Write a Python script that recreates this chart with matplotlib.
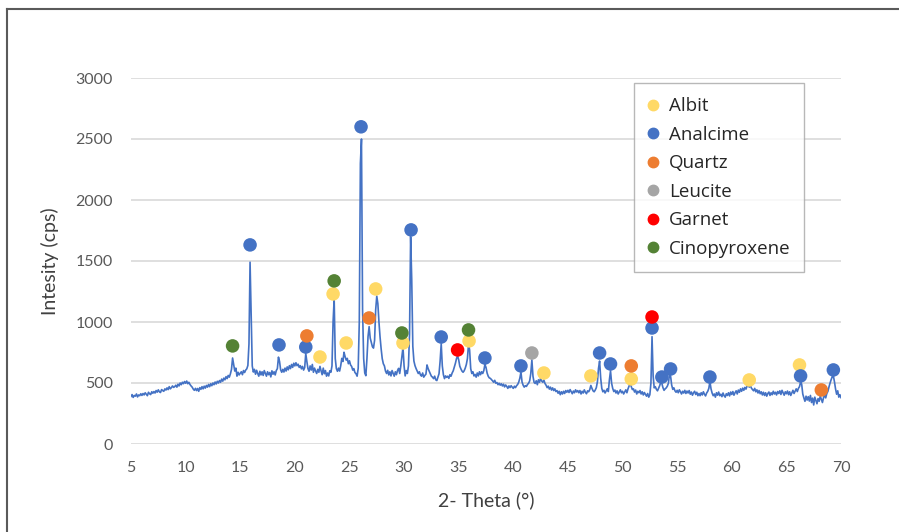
import numpy as np
import matplotlib
matplotlib.use("Agg")
import matplotlib.pyplot as plt
from matplotlib.lines import Line2D

plt.rcParams["font.family"] = ["Lato", "DejaVu Sans"]

# XRD scan, 5 to 70 deg, step 0.1 deg (one row per degree)
two_theta = np.linspace(5, 70, 651)
intensity = [
    390, 405, 382, 398, 392, 410, 386, 402, 396, 412,
    398, 414, 402, 420, 408, 396, 424, 412, 405, 428,
    416, 430, 418, 438, 425, 444, 428, 422, 446, 438,
    432, 452, 442, 460, 446, 470, 452, 462, 476, 464,
    470, 482, 466, 490, 476, 500, 486, 506, 494, 512,
    498, 516, 494, 506, 488, 476, 466, 450, 440, 456,
    438, 455, 432, 462, 448, 470, 452, 474, 458, 480,
    466, 488, 470, 494, 478, 500, 486, 508, 492, 514,
    500, 520, 506, 532, 515, 540, 526, 552, 536, 562,
    548, 575, 612, 705, 650, 598, 622, 556, 588, 566,
    580, 592, 568, 602, 586, 606, 616, 644, 820, 1490,
    1060, 640, 590, 612, 572, 604, 578, 556, 596, 566,
    592, 562, 602, 578, 556, 592, 568, 586, 550, 600,
    572, 592, 566, 602, 618, 712, 676, 608, 588, 612,
    590, 622, 598, 632, 608, 642, 618, 652, 628, 662,
    640, 666, 642, 654, 628, 642, 616, 636, 606, 626,
    742, 676, 618, 596, 640, 606, 652, 588, 622, 598,
    578, 612, 588, 636, 600, 568, 622, 576, 602, 556,
    582, 558, 600, 588, 640, 1000, 1190, 700, 618, 596,
    622, 598, 642, 702, 676, 752, 716, 688, 702, 658,
    682, 648, 636, 606, 618, 586, 576, 556, 620, 1000,
    2300, 2500, 1100, 700, 582, 560, 700, 880, 962, 868,
    832, 798, 786, 850, 1100, 1212, 1150, 1000, 878, 780,
    700, 658, 640, 598, 578, 604, 566, 592, 558, 602,
    578, 556, 592, 568, 602, 620, 578, 640, 720, 792,
    640, 558, 602, 578, 640, 900, 1700, 1350, 800, 680,
    642, 618, 598, 578, 592, 566, 556, 582, 548, 562,
    572, 648, 618, 596, 576, 556, 548, 536, 556, 526,
    520, 548, 576, 680, 822, 640, 568, 536, 558, 546,
    556, 538, 568, 556, 582, 600, 632, 662, 700, 722,
    690, 638, 616, 598, 588, 600, 622, 652, 700, 820,
    770, 618, 578, 592, 558, 570, 548, 582, 558, 592,
    568, 592, 578, 602, 652, 628, 582, 556, 542, 538,
    528, 518, 506, 522, 498, 504, 486, 498, 482, 494,
    476, 490, 468, 484, 472, 456, 476, 462, 478, 466,
    456, 474, 462, 478, 488, 508, 540, 590, 508, 482,
    466, 478, 472, 488, 498, 518, 578, 690, 556, 506,
    496, 518, 486, 526, 506, 538, 516, 506, 524, 496,
    482, 462, 474, 450, 466, 442, 460, 438, 452, 430,
    438, 416, 432, 404, 428, 410, 432, 414, 438, 424,
    440, 422, 446, 428, 412, 434, 420, 444, 426, 438,
    420, 438, 410, 432, 418, 444, 424, 412, 436, 428,
    446, 480, 456, 436, 428, 442, 462, 510, 620, 680,
    540, 456, 428, 440, 418, 436, 452, 430, 528, 600,
    498, 456, 430, 442, 418, 436, 410, 428, 444, 420,
    432, 410, 428, 444, 420, 452, 476, 498, 470, 446,
    452, 426, 442, 410, 432, 420, 438, 410, 428, 402,
    422, 406, 392, 414, 384, 404, 500, 880, 560, 460,
    470, 448, 436, 458, 478, 508, 496, 462, 440, 452,
    460, 474, 498, 572, 556, 482, 448, 460, 436, 424,
    440, 420, 444, 428, 410, 432, 418, 440, 414, 434,
    418, 438, 408, 426, 400, 420, 432, 406, 424, 396,
    414, 396, 420, 402, 428, 408, 394, 418, 432, 456,
    512, 452, 418, 396, 410, 384, 420, 400, 426, 396,
    408, 388, 418, 396, 384, 412, 398, 420, 394, 426,
    406, 430, 400, 420, 436, 410, 442, 424, 452, 432,
    458, 440, 464, 450, 474, 486, 466, 480, 458, 446,
    436, 456, 428, 444, 418, 438, 412, 428, 402, 424,
    398, 420, 392, 414, 426, 398, 420, 404, 432, 410,
    424, 402, 430, 414, 436, 406, 440, 420, 400, 428,
    412, 434, 404, 428, 398, 420, 440, 414, 432, 452,
    430, 456, 470, 508, 490, 410, 378, 350, 392, 360,
    388, 352, 398, 340, 376, 320, 384, 358, 330, 372,
    350, 392, 366, 340, 380, 402, 378, 414, 432, 468,
    500, 528, 552, 560, 510, 452, 408, 436, 384, 404,
    380,
]

# phase markers (2theta, cps)
albit_x = [22.3, 24.7, 23.5, 27.4, 29.9, 35.95, 42.8, 47.1, 50.8, 61.6, 66.2]
albit_y = [713, 828, 1230, 1271, 828, 845, 582, 558, 533, 525, 648]
analcime_x = [15.9, 18.55, 21.0, 26.06, 30.64, 33.4, 37.4, 40.7, 47.9, 48.9,
              52.7, 53.6, 54.4, 58.0, 66.3, 69.3]
analcime_y = [1632, 812, 795, 2600, 1755, 877, 705, 640, 746, 656,
              951, 549, 615, 549, 558, 607]
quartz_x = [21.1, 26.8, 50.8, 68.2]
quartz_y = [886, 1033, 640, 443]
leucite_x = [41.7]
leucite_y = [746]
garnet_x = [34.9, 52.7]
garnet_y = [771, 1041]
cpx_x = [14.3, 23.6, 29.8, 35.9]
cpx_y = [804, 1337, 910, 935]

phases = ["Albit", "Analcime", "Quartz", "Leucite", "Garnet", "Cinopyroxene"]
colors = ["#FFD966", "#4472C4", "#ED7D31", "#A5A5A5", "#FF0000", "#548235"]

fig = plt.figure(figsize=(8.99, 5.32), dpi=100)
ax = fig.add_axes([131 / 899, 1 - 444 / 532, 710 / 899, 366 / 532])

ax.plot(two_theta, intensity, color="#4472C4", lw=1.2, zorder=2)

points = [
    (albit_x, albit_y),
    (analcime_x, analcime_y),
    (quartz_x, quartz_y),
    (leucite_x, leucite_y),
    (garnet_x, garnet_y),
    (cpx_x, cpx_y),
]
for (px, py), c in zip(points, colors):
    ax.scatter(px, py, s=95, color=c, edgecolors="none", zorder=3, clip_on=False)

ax.set_xlim(5, 70)
ax.set_ylim(0, 3000)
ax.set_xticks(range(5, 71, 5))
ax.set_yticks(range(0, 3001, 500))
ax.yaxis.grid(True, color="#D9D9D9", lw=1.2)
ax.set_axisbelow(True)
for s in ax.spines.values():
    s.set_visible(False)
ax.tick_params(length=0, labelsize=11.5, labelcolor="#595959")
ax.tick_params(axis="y", pad=13)
ax.tick_params(axis="x", pad=12)

ax.set_xlabel("2- Theta (°)", fontsize=14, color="#404040", labelpad=12)
ax.set_ylabel("Intesity (cps)", fontsize=14, color="#404040", labelpad=12)

handles = [Line2D([], [], marker="o", ls="", color=c, markersize=7.5) for c in colors]
leg = fig.legend(handles, phases, loc="upper left",
                 bbox_to_anchor=(634 / 899, 1 - 83 / 532),
                 bbox_transform=fig.transFigure,
                 prop={"family": ["Open Sans", "DejaVu Sans"], "size": 13.5},
                 frameon=True, fancybox=False, edgecolor="#A6A6A6",
                 labelspacing=0.56, handletextpad=0.6, handlelength=0.5,
                 borderpad=0.75, borderaxespad=0)
leg.get_frame().set_linewidth(1.0)
for t in leg.get_texts():
    t.set_color("#262626")

# outer frame (top and left edges visible in the original)
fig.add_artist(Line2D([0.0078, 0.0078], [0, 0.983], color="#5A5A5A", lw=1.5))
fig.add_artist(Line2D([0.0078, 1], [0.983, 0.983], color="#5A5A5A", lw=1.5))

fig.savefig("out.png", dpi=100)
